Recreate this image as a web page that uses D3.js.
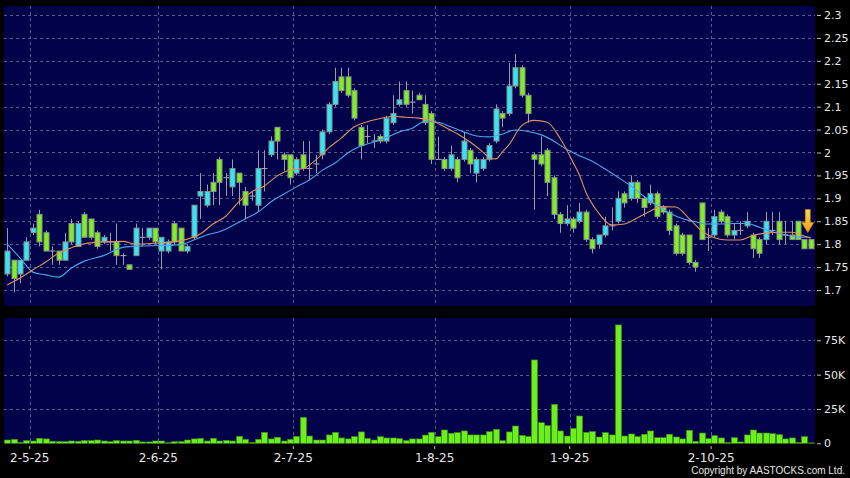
<!DOCTYPE html>
<html>
<head>
<meta charset="utf-8">
<script src="https://cdn.jsdelivr.net/npm/d3@7"></script>
<style>
  body { margin: 0; background: #000; }
  svg { display: block; font-family: "DejaVu Sans", sans-serif; }
</style>
</head>
<body>
<div id="chart"></div>
<script>
// ##################################
// Daily candles + volume, 2025
// ##################################

// Candle values (one per trading day)
const opens = [1.735,1.765,1.735,1.765,1.825,1.865,1.825,1.785,1.785,1.765, 1.845,1.795,1.865,1.855,1.825,1.805,1.805,1.805,1.775,1.755,
  1.775,1.815,1.815,1.835,1.785,1.785,1.845,1.835,1.785,1.815, 1.905,1.885,1.935,1.985,1.945,1.925,1.955,1.915,1.905,1.885,
  1.965,1.995,2.055,1.995,1.995,1.955,1.995,1.965,1.975,1.995, 2.045,2.105,2.165,2.165,2.135,2.055,2.035,2.025,2.035,2.025,
  2.065,2.105,2.135,2.11,2.125,2.105,2.085,1.985,1.985,1.965, 1.985,1.985,2.005,1.955,1.965,1.985,2.025,2.085,2.085,2.145,
  2.185,2.125,1.995,1.995,2.005,1.945,1.865,1.845,1.855,1.85, 1.87,1.81,1.80,1.82,1.84,1.85,1.91,1.90,1.935,1.90,
  1.89,1.91,1.88,1.87,1.84,1.82,1.82,1.76,1.89,1.815, 1.82,1.87,1.86,1.82,1.83,1.84,1.82,1.81,1.81,1.83,
  1.85,1.82,1.82,1.85,1.81,1.81]
const highs = [1.835,1.765,1.765,1.815,1.845,1.875,1.83,1.795,1.785,1.825, 1.855,1.85,1.87,1.855,1.83,1.82,1.825,1.845,1.78,1.755,
  1.845,1.835,1.835,1.835,1.815,1.81,1.85,1.835,1.80,1.885, 1.955,1.93,1.955,1.99,1.955,1.985,1.955,1.925,1.915,2.005,
  2.005,2.035,2.055,2.0,1.995,1.99,2.025,2.025,1.995,2.05, 2.11,2.185,2.185,2.185,2.14,2.06,2.06,2.04,2.04,2.08,
  2.125,2.155,2.155,2.135,2.13,2.125,2.09,2.035,1.99,2.015, 1.99,2.045,2.01,1.99,1.99,2.02,2.105,2.09,2.195,2.215,
  2.19,2.13,2.0,2.035,2.01,1.95,1.87,1.885,1.86,1.89, 1.875,1.815,1.82,1.86,1.88,1.915,1.915,1.95,1.94,1.905,
  1.93,1.915,1.885,1.875,1.845,1.825,1.82,1.765,1.89,1.835, 1.875,1.875,1.865,1.845,1.85,1.87,1.825,1.815,1.87,1.87,
  1.87,1.85,1.85,1.85,1.81,1.81]
const lows = [1.73,1.695,1.715,1.765,1.82,1.795,1.785,1.755,1.755,1.765, 1.80,1.795,1.815,1.81,1.79,1.80,1.785,1.755,1.755,1.745,
  1.775,1.795,1.81,1.80,1.745,1.78,1.80,1.785,1.78,1.81, 1.855,1.88,1.885,1.885,1.905,1.905,1.885,1.855,1.895,1.87,
  1.915,1.99,1.985,1.96,1.93,1.95,1.96,1.94,1.955,1.985, 2.04,2.10,2.13,2.12,2.07,1.985,2.02,2.01,2.02,2.02,
  2.06,2.10,2.10,2.085,2.115,2.06,1.975,1.985,1.96,1.96, 1.935,1.98,1.955,1.935,1.96,1.98,2.02,2.055,2.08,2.14,
  2.12,2.065,1.875,1.97,1.905,1.855,1.825,1.84,1.825,1.845, 1.805,1.78,1.79,1.815,1.83,1.845,1.88,1.895,1.89,1.86,
  1.885,1.855,1.865,1.82,1.775,1.775,1.755,1.74,1.81,1.785, 1.815,1.845,1.815,1.81,1.82,1.835,1.77,1.77,1.80,1.82,
  1.80,1.80,1.81,1.81,1.79,1.79]
const closes = [1.785,1.725,1.765,1.805,1.835,1.805,1.785,1.785,1.765,1.805, 1.805,1.845,1.815,1.815,1.795,1.815,1.805,1.775,1.775,1.745,
  1.835,1.815,1.835,1.805,1.815,1.805,1.805,1.785,1.795,1.885, 1.915,1.915,1.915,1.935,1.945,1.965,1.935,1.885,1.905,1.965,
  1.965,2.025,2.025,1.985,1.945,1.985,1.965,1.965,1.975,2.045, 2.105,2.155,2.135,2.125,2.075,2.015,2.035,2.025,2.025,2.075,
  2.085,2.115,2.105,2.11,2.115,2.065,1.985,1.985,1.965,1.995, 1.945,2.025,1.975,1.985,1.985,2.015,2.095,2.075,2.145,2.185,
  2.125,2.085,1.985,1.975,1.935,1.865,1.845,1.855,1.835,1.87, 1.81,1.79,1.82,1.84,1.84,1.90,1.89,1.935,1.90,1.88,
  1.91,1.86,1.87,1.83,1.78,1.78,1.76,1.75,1.81,1.815, 1.86,1.85,1.82,1.83,1.83,1.85,1.79,1.78,1.85,1.83,
  1.81,1.82,1.81,1.81,1.79,1.79]

// Volume in thousands of shares
const volumesK = [2.4,2.9,0.7,2.0,1.7,3.6,3.2,1.5,1.2,1.2, 1.7,1.5,2.0,2.0,2.4,1.7,1.2,2.0,1.7,1.7,
  2.2,1.0,1.0,1.7,1.7,0.5,1.2,1.2,2.4,3.2, 3.6,1.7,3.6,1.7,2.2,1.7,5.1,2.9,0.7,2.9,
  8.0,3.2,4.4,1.7,2.9,5.1,18.9,5.3,2.4,2.4, 6.1,8.0,3.9,3.2,4.9,8.3,3.6,2.4,4.9,3.9,
  3.9,3.4,2.0,3.2,3.2,6.0,8.0,4.9,9.7,7.3, 7.8,9.0,6.1,6.1,6.1,8.5,10.2,2.0,8.3,12.6,
  5.8,4.9,60.7,15.0,12.9,28.4,9.0,5.3,10.9,19.9, 8.0,8.5,4.6,7.8,6.1,86.2,5.3,6.8,4.9,6.6,
  9.0,4.1,4.1,6.6,4.6,3.2,9.5,1.5,7.5,3.4, 5.6,3.9,0.7,4.1,1.0,6.1,9.7,7.5,7.5,7.0,
  6.3,3.2,3.9,0.7,4.9,0.3]

// Moving averages: [day index, price]
const maShort = [[0,1.711],[2,1.726],[4,1.744],[6,1.761],[8,1.781],[10,1.792],[12,1.801],[15,1.805],[18,1.806],[20,1.800],
  [23,1.802],[26,1.805],[28,1.811],[30,1.822],[32,1.844],[34,1.861],[36,1.892],[38,1.914],[40,1.927],[42,1.949],
  [44,1.962],[46,1.965],[48,1.984],[50,2.010],[52,2.032],[54,2.056],[56,2.067],[58,2.074],[60,2.079],[62,2.077],
  [64,2.075],[66,2.070],[68,2.056],[70,2.041],[72,2.023],[74,2.001],[75,1.988],[76,1.986],[77,2.001],[78,2.016],
  [80,2.058],[82,2.070],[84,2.066],[86,2.031],[88,1.979],[89,1.951],[90,1.914],[92,1.868],[94,1.842],[96,1.844],
  [98,1.857],[100,1.872],[102,1.882],[104,1.881],[106,1.857],[108,1.829],[110,1.814],[112,1.809],[114,1.809],[116,1.819],
  [118,1.824],[120,1.826],[122,1.826],[124,1.818],[125,1.813]]
const maLong = [[0,1.800],[2,1.770],[4,1.739],[6,1.733],[8,1.728],[10,1.748],[12,1.763],[15,1.775],[18,1.793],[21,1.796],
  [24,1.797],[27,1.799],[29,1.809],[31,1.820],[33,1.827],[35,1.840],[37,1.855],[39,1.870],[41,1.892],[43,1.909],
  [45,1.925],[47,1.940],[49,1.961],[51,1.977],[53,1.999],[55,2.014],[57,2.023],[59,2.033],[61,2.045],[63,2.053],
  [65,2.068],[67,2.066],[69,2.056],[71,2.045],[73,2.036],[75,2.034],[77,2.040],[79,2.049],[81,2.046],[83,2.039],
  [85,2.025],[87,2.007],[89,1.993],[91,1.981],[93,1.964],[95,1.946],[97,1.927],[99,1.905],[101,1.885],[103,1.868],
  [105,1.856],[107,1.849],[109,1.844],[111,1.844],[113,1.845],[115,1.845],[117,1.837],[119,1.827],[121,1.820],[123,1.816],
  [125,1.815]]

// Axis labels
const priceTicks = [1.7,1.75,1.8,1.85,1.9,1.95,2,2.05,2.1,2.15,2.2,2.25,2.3]
const volTicks = [0,25000,50000,75000]
const volTickLabels = ["0","25K","50K","75K"]
const dateTickIdx = [3,23,44,66,87,109]
const dateTickLabels = ["2-5-25","2-6-25","2-7-25","1-8-25","1-9-25","2-10-25"]

// Store values for svg creation
const w = 850, h = 478
const left = 4, right = 815
const priceTop = 6, priceBottom = 306
const volTop = 318, volBottom = 444

const svg = d3.select("#chart")
  .append("svg")
  .attr("width", w)
  .attr("height", h)

svg.append("rect").attr("width", w).attr("height", h).attr("fill", "#000")

// Scales
const x = d3.scaleBand()
  .domain(d3.range(opens.length))
  .range([left, right - 1])
  .paddingInner(0.2)
  .paddingOuter(0.1)
const step = x.step()
const cx = i => x(i) + x.bandwidth() / 2

const y = d3.scaleLinear().domain([1.7, 2.3]).range([290, 15])
const yv = d3.scaleLinear().domain([0, 75000]).range([443.3, 340.3])

// Panels
const panelFill = "#02024a"
svg.append("rect").attr("x", left).attr("y", priceTop).attr("width", right - left).attr("height", priceBottom - priceTop).attr("fill", panelFill)
svg.append("rect").attr("x", left).attr("y", volTop).attr("width", right - left).attr("height", volBottom - volTop).attr("fill", panelFill)

// Grid lines
const gridColor = "#6f6f9c"
const grid = svg.append("g")
  .attr("stroke", gridColor)
  .attr("stroke-width", 1)
  .attr("stroke-dasharray", "3,3")
  .attr("opacity", 0.8)

grid.selectAll(".hp")
  .data(priceTicks)
  .enter()
  .append("line")
    .attr("x1", left).attr("x2", right)
    .attr("y1", d => Math.round(y(d)) + 0.5)
    .attr("y2", d => Math.round(y(d)) + 0.5)

grid.selectAll(".hv")
  .data(volTicks.slice(1))
  .enter()
  .append("line")
    .attr("x1", left).attr("x2", right)
    .attr("y1", d => Math.round(yv(d)) + 0.5)
    .attr("y2", d => Math.round(yv(d)) + 0.5)

const gx = i => Math.round(cx(i) + step / 2) + 0.5
grid.selectAll(".vp")
  .data(dateTickIdx)
  .enter()
  .append("line")
    .attr("x1", gx).attr("x2", gx)
    .attr("y1", priceTop).attr("y2", priceBottom)
grid.selectAll(".vv")
  .data(dateTickIdx)
  .enter()
  .append("line")
    .attr("x1", gx).attr("x2", gx)
    .attr("y1", volTop).attr("y2", volBottom)

// Candles
const days = d3.range(opens.length)
const upColor = "#33e6f5"
const downColor = "#7fee22"

svg.append("g")
  .selectAll("line")
  .data(days)
  .enter()
  .append("line")
    .attr("x1", i => Math.round(cx(i)) + 0.5)
    .attr("x2", i => Math.round(cx(i)) + 0.5)
    .attr("y1", i => y(highs[i]))
    .attr("y2", i => y(lows[i]))
    .attr("stroke", "#9c9ca8")
    .attr("stroke-width", 1)

svg.append("g")
  .selectAll("rect")
  .data(days.filter(i => opens[i] !== closes[i]))
  .enter()
  .append("rect")
    .attr("x", i => Math.round(cx(i)) - 2)
    .attr("width", 5)
    .attr("y", i => y(Math.max(opens[i], closes[i])))
    .attr("height", i => Math.max(1, Math.abs(y(opens[i]) - y(closes[i]))))
    .attr("fill", i => closes[i] > opens[i] ? upColor : downColor)
    .attr("stroke", "#8a8f8a")
    .attr("stroke-width", 1)

// Doji: open equals close
svg.append("g")
  .selectAll("line")
  .data(days.filter(i => opens[i] === closes[i]))
  .enter()
  .append("line")
    .attr("x1", i => Math.round(cx(i)) - 2.5)
    .attr("x2", i => Math.round(cx(i)) + 3.5)
    .attr("y1", i => y(opens[i]))
    .attr("y2", i => y(opens[i]))
    .attr("stroke", "#a8a8b4")
    .attr("stroke-width", 1)

// Moving averages
const line = d3.line()
  .x(d => cx(d[0]))
  .y(d => y(d[1]))
  .curve(d3.curveMonotoneX)

svg.append("path")
  .datum(maLong)
  .attr("d", line)
  .attr("fill", "none")
  .attr("stroke", "#4aa6e8")
  .attr("stroke-width", 1.1)

svg.append("path")
  .datum(maShort)
  .attr("d", line)
  .attr("fill", "none")
  .attr("stroke", "#e0905e")
  .attr("stroke-width", 1.1)

// Arrow on the last day
const last = opens.length - 1
const ax = cx(last) - 3
const ay = y(highs[last]) - 7
const defs = svg.append("defs")
const grad = defs.append("linearGradient").attr("id", "arrowGrad").attr("x1", 0).attr("y1", 0).attr("x2", 0).attr("y2", 1)
grad.append("stop").attr("offset", "0%").attr("stop-color", "#ffd84a")
grad.append("stop").attr("offset", "100%").attr("stop-color", "#f0a010")

svg.append("path")
  .attr("d", `M${ax - 2.5},${ay - 23} L${ax + 2.5},${ay - 23} L${ax + 2.5},${ay - 10} L${ax + 6},${ay - 10} L${ax},${ay} L${ax - 6},${ay - 10} L${ax - 2.5},${ay - 10} Z`)
  .attr("fill", "url(#arrowGrad)")
  .attr("stroke", "#c88a10")
  .attr("stroke-width", 0.6)

// Volume bars
svg.append("g")
  .selectAll("rect")
  .data(days)
  .enter()
  .append("rect")
    .attr("x", i => Math.round(cx(i)) - 2.5)
    .attr("width", 6)
    .attr("y", i => yv(volumesK[i] * 1000))
    .attr("height", i => yv(0) - yv(volumesK[i] * 1000))
    .attr("fill", "#6cf01c")
    .attr("stroke", "#3f8a12")
    .attr("stroke-width", 0.6)

// Right axes
const axisText = "#e6e6e6"
const priceAxis = svg.append("g")
  .attr("transform", `translate(${right + 2},0)`)
  .call(d3.axisRight(y).tickValues(priceTicks).tickSize(4).tickPadding(3).tickFormat(d => String(+d.toFixed(2))))
priceAxis.select(".domain").remove()
priceAxis.selectAll("line").attr("stroke", "#bbbbbb")
priceAxis.selectAll("text").attr("fill", axisText).attr("font-size", 11).attr("font-family", "DejaVu Sans")

const volAxis = svg.append("g")
  .attr("transform", `translate(${right + 2},0)`)
  .call(d3.axisRight(yv).tickValues(volTicks).tickSize(4).tickPadding(3).tickFormat((d, i) => volTickLabels[i]))
volAxis.select(".domain").remove()
volAxis.selectAll("line").attr("stroke", "#bbbbbb")
volAxis.selectAll("text").attr("fill", axisText).attr("font-size", 11).attr("font-family", "DejaVu Sans")

// Date axis
const dateAxis = svg.append("g")
  .attr("transform", `translate(${step / 2},${volBottom + 2})`)
  .call(d3.axisBottom(x).tickValues(dateTickIdx).tickSize(3).tickPadding(4).tickFormat((d, i) => dateTickLabels[i]))
dateAxis.select(".domain").remove()
dateAxis.selectAll("line").attr("stroke", "#bbbbbb")
dateAxis.selectAll("text").attr("fill", axisText).attr("font-size", 12).attr("font-family", "DejaVu Sans")

svg.append("text")
  .attr("x", 845)
  .attr("y", 474)
  .attr("text-anchor", "end")
  .attr("fill", axisText)
  .attr("font-size", 10)
  .attr("font-family", "Liberation Sans")
  .text("Copyright by AASTOCKS.com Ltd.")
</script>
</body>
</html>
